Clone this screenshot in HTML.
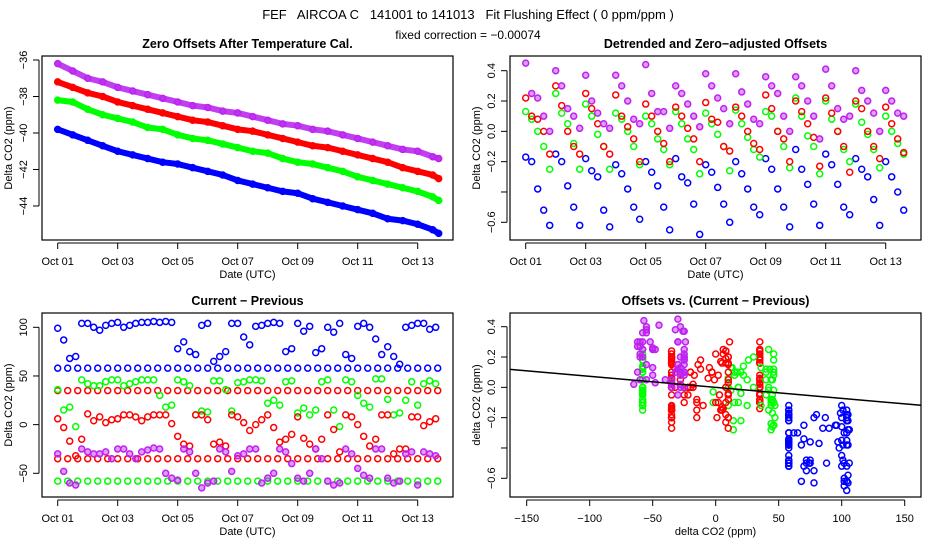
<!DOCTYPE html>
<html><head><meta charset="utf-8"><style>
body{margin:0;background:#fff;}
svg{display:block;font-family:"Liberation Sans",sans-serif;}
text{white-space:pre;}
</style></head><body>
<svg id="c" width="936" height="540" viewBox="0 0 936 540" xmlns="http://www.w3.org/2000/svg">
<rect width="936" height="540" fill="#fff"/>
<text x="468" y="19" font-size="13" text-anchor="middle">FEF   AIRCOA C   141001 to 141013   Fit Flushing Effect ( 0 ppm/ppm )</text>
<text x="468" y="39" font-size="12" text-anchor="middle">fixed correction = −0.00074</text>
</svg>
<script>
// ---- Panel 1: zero offsets (days since Oct 01)
const t1 = [0,0.5,1,1.5,2,2.5,3,3.5,4,4.5,5,5.5,6,6.5,7,7.5,8,8.5,9,9.5,10,10.5,11,11.5,12,12.5,12.7];
const zeroPurple = [-36.2,-36.6,-37.0,-37.2,-37.5,-37.7,-37.9,-38.1,-38.3,-38.5,-38.6,-38.8,-38.9,-39.1,-39.3,-39.5,-39.6,-39.8,-39.9,-40.1,-40.3,-40.5,-40.7,-40.9,-41.0,-41.3,-41.4];
const zeroRed = [-37.2,-37.5,-37.8,-38.0,-38.3,-38.5,-38.7,-38.9,-39.1,-39.3,-39.4,-39.6,-39.8,-39.9,-40.1,-40.3,-40.5,-40.7,-40.8,-41.0,-41.2,-41.4,-41.6,-41.9,-42.1,-42.3,-42.5];
const zeroGreen = [-38.2,-38.3,-38.7,-39.0,-39.2,-39.4,-39.7,-39.8,-40.1,-40.3,-40.4,-40.6,-40.8,-41.0,-41.1,-41.4,-41.6,-41.7,-41.9,-42.1,-42.4,-42.6,-42.8,-43.0,-43.2,-43.5,-43.7];
const zeroBlue = [-39.8,-40.1,-40.4,-40.7,-41.0,-41.2,-41.4,-41.6,-41.7,-41.9,-42.1,-42.3,-42.6,-42.8,-43.0,-43.2,-43.3,-43.6,-43.8,-44.0,-44.2,-44.4,-44.7,-44.8,-45.0,-45.3,-45.5];
// ---- Panels 2/3: sampled every 0.2 day
const sampleStep = 0.2;
const offPurple = [0.45,0.25,0.22,0.1,0.0, 0.4,0.3,0.15,0.1,0.02, 0.37,0.2,0.12,0.05,0.02, 0.37,0.3,0.2,0.08,0.05, 0.44,0.25,0.13,0.13,0.02, 0.3,0.25,0.18,0.1,0.03, 0.38,0.3,0.22,0.15,0.05, 0.38,0.26,0.18,0.08,0.05, 0.36,0.3,0.25,0.1,0.0, 0.36,0.3,0.2,0.1,-0.05, 0.41,0.3,0.15,0.08,0.1, 0.4,0.27,0.2,0.12,0.0, 0.27,0.2,0.12,0.1];
const offRed = [0.22,0.1,0.08,0.0,-0.15, 0.3,0.17,0.0,-0.1,-0.15, 0.25,0.15,0.05,-0.1,-0.15, 0.24,0.1,0.03,-0.05,-0.2, 0.18,0.1,0.0,-0.08,-0.2, 0.16,0.1,0.02,-0.05,-0.2, 0.19,0.08,0.06,-0.1,-0.13, 0.16,0.1,0.0,-0.08,-0.12, 0.24,0.15,0.0,-0.05,-0.2, 0.2,0.13,0.05,-0.04,-0.23, 0.22,0.12,0.0,-0.1,-0.27, 0.2,0.15,0.0,-0.1,-0.18, 0.16,0.05,-0.05,-0.14];
const offGreen = [0.13,0.08,0.0,-0.1,-0.25, 0.25,0.12,0.05,-0.08,-0.25, 0.18,0.1,-0.02,-0.1,-0.25, 0.12,0.08,0.0,-0.1,-0.22, 0.1,0.05,-0.05,-0.12,-0.22, 0.13,0.05,-0.05,-0.12,-0.28, 0.12,0.05,-0.02,-0.1,-0.26, 0.14,0.05,-0.04,-0.12,-0.17, 0.13,0.1,0.0,-0.1,-0.24, 0.22,0.1,-0.03,-0.1,-0.28, 0.2,0.08,0.0,-0.12,-0.2, 0.18,0.06,-0.02,-0.12,-0.24, 0.1,0.0,-0.08,-0.15];
const offBlue = [-0.17,-0.2,-0.38,-0.52,-0.62, -0.15,-0.2,-0.36,-0.5,-0.62, -0.18,-0.26,-0.3,-0.52,-0.63, -0.22,-0.28,-0.38,-0.5,-0.58, -0.2,-0.27,-0.36,-0.5,-0.65, -0.18,-0.3,-0.34,-0.48,-0.68, -0.22,-0.27,-0.37,-0.48,-0.6, -0.2,-0.28,-0.38,-0.5,-0.55, -0.18,-0.25,-0.38,-0.5,-0.63, -0.12,-0.25,-0.35,-0.48,-0.62, -0.15,-0.22,-0.35,-0.5,-0.55, -0.18,-0.25,-0.3,-0.45,-0.62, -0.2,-0.3,-0.4,-0.52];
const diffBlue = [99,87,68,70,104, 104,100,97,102,104, 105,100,102,104,105, 105,106,105,106,105, 78,85,75,72,102, 104,65,70,75,104, 104,90,82,101,102, 104,105,104,75,78, 104,96,101,74,78, 100,95,104,72,68, 101,104,100,88,72, 80,70,62,100,102, 104,104,98,100];
const diffGreen = [36,15,18,-2,46, 42,40,40,44,46, 46,40,42,44,46, 46,46,30,18,20, 46,44,40,10,14, 13,45,45,36,14, 43,44,46,46,45, 22,25,20,44,45, 12,17,10,15,44, 46,15,-2,46,44, 30,22,18,47,47, 26,10,12,25,44, 20,42,45,42];
const diffRed = [6,-3,-17,-32,-15, 11,4,8,2,5, 6,10,10,8,4, 8,10,10,10,1, -12,-20,-22,10,10, 5,-20,-18,-22,10, 8,2,-6,0,5, 10,-3,-18,-15,-10, 8,-14,-20,-25,-15, 10,-5,-28,10,8, 0,-12,-22,-15,10, 10,-30,-25,-25,8, 8,-1,3,6];
const diffPurple = [-30,-48,-60,-62,-25, -28,-30,-30,-28,-35, -25,-25,-30,-35,-28, -26,-24,-25,-50,-55, -57,-25,-28,-50,-65, -60,-58,-25,-28,-48, -32,-30,-25,-25,-60, -55,-50,-25,-28,-40, -55,-58,-50,-25,-35, -58,-62,-60,-25,-30, -45,-52,-55,-25,-25, -55,-60,-58,-30,-28, -62,-28,-30,-32];
// constant "Current - Previous" rows
const rowStep = 1/3;
const rowCount = 39;
const rowBlue = 58, rowGreen = -58, rowRedHigh = 35, rowRedLow = -35;
const fixedCorrection = -0.00074;
const dateTicks = [0,2,4,6,8,10,12];
const dateLabels = ["Oct 01","Oct 03","Oct 05","Oct 07","Oct 09","Oct 11","Oct 13"];

const svg = document.getElementById('c');
const NS = 'http://www.w3.org/2000/svg';
const COL = {purple:'#a020f0', red:'#ff0000', green:'#00ff00', blue:'#0000ff'};
function mk(tag, attrs, parent){const e=document.createElementNS(NS,tag);for(const k in attrs)e.setAttribute(k,attrs[k]);(parent||svg).appendChild(e);return e;}
function lin(d0,d1,r0,r1){return v=>r0+(v-d0)*(r1-r0)/(d1-d0);}

function panel(name, box, xs, ys, xt, xl, yt, yl, title, xTitle, yTitle){
  const g = mk('g',{});
  
  
  const fr = mk('rect',{x:box.x0,y:box.y0,width:box.x1-box.x0,height:box.y1-box.y0,fill:'none',stroke:'#000','stroke-width':1.2},g);
  
  
  const xa = mk('g',{},g);
  
  
  const ay = box.y1+3;
  mk('line',{x1:xs(xt[0]),x2:xs(xt[xt.length-1]),y1:ay,y2:ay,stroke:'#000'},xa);
  xt.forEach((v,i)=>{mk('line',{x1:xs(v),x2:xs(v),y1:ay,y2:ay+6,stroke:'#000'},xa);
    const t=mk('text',{x:xs(v),y:ay+22,'font-size':11,'text-anchor':'middle'},xa);t.textContent=xl[i];
    
    });
  const ya = mk('g',{},g);
  
  
  const ax = box.x0-3;
  mk('line',{x1:ax,x2:ax,y1:ys(yt[0]),y2:ys(yt[yt.length-1]),stroke:'#000'},ya);
  yt.forEach((v,i)=>{mk('line',{x1:ax-6,x2:ax,y1:ys(v),y2:ys(v),stroke:'#000'},ya);
    if(yl[i]!==''){const t=mk('text',{x:0,y:0,'font-size':11,'text-anchor':'middle',transform:`translate(${ax-12},${ys(v)}) rotate(-90)`},ya);t.textContent=yl[i];
    
    }});
  const tt = mk('text',{x:(box.x0+box.x1)/2,y:box.y0-8,'font-size':12.5,'font-weight':'bold','text-anchor':'middle'},g);tt.textContent=title;
  
  
  const xtl = mk('text',{x:(box.x0+box.x1)/2,y:box.y1+38,'font-size':11,'text-anchor':'middle'},g);xtl.textContent=xTitle;
  
  
  const ytl = mk('text',{x:0,y:0,'font-size':11,'text-anchor':'middle',transform:`translate(${box.x0-30},${(box.y0+box.y1)/2}) rotate(-90)`},g);ytl.textContent=yTitle;
  
  
  const pts = mk('g',{},g);
  
  
  return pts;
}
function pt(parent,x,y,c){
  const isP = c==='purple';
  const e = mk('circle',{cx:x,cy:y,r:3,fill:isP?'rgba(180,40,240,0.45)':'none',stroke:isP?'#c020f0':COL[c],'stroke-width':1.5},parent);
  
  
}

// Panel 1
{const box={x0:42,x1:453,y0:56,y1:240};
 const xs=lin(0,12,57.7,417.7), ys=lin(-36,-44,60,206);
 const p=panel('zero-offsets-panel',box,xs,ys,dateTicks,dateLabels,[-36,-38,-40,-42,-44],['−36','−38','−40','−42','−44'],'Zero Offsets After Temperature Cal.','Date (UTC)','Delta CO2 (ppm)');
 [['purple',zeroPurple],['red',zeroRed],['green',zeroGreen],['blue',zeroBlue]].forEach(([c,arr])=>{
   const band=mk('polyline',{points:arr.map((v,i)=>xs(t1[i])+','+ys(v)).join(' '),fill:'none',stroke:c==='purple'?'#c040f0':COL[c],'stroke-width':6,'stroke-linejoin':'round','stroke-linecap':'round'},p);
   
   
   arr.forEach((v,i)=>pt(p,xs(t1[i]),ys(v),c));
 });}
// Panel 2
const offTicks=[0.4,0.2,0,-0.2,-0.4,-0.6], offLabels=['0.4','0.2','0.0','−0.2','','−0.6'];
{const box={x0:510,x1:921,y0:56,y1:240};
 const xs=lin(0,12,525.7,885.7), ys=lin(0.4,-0.6,70.7,222.3);
 const p=panel('detrended-offsets-panel',box,xs,ys,dateTicks,dateLabels,offTicks,offLabels,'Detrended and Zero−adjusted Offsets','Date (UTC)','Delta CO2 (ppm)');
 [['blue',offBlue],['green',offGreen],['red',offRed],['purple',offPurple]].forEach(([c,arr])=>arr.forEach((v,i)=>pt(p,xs(i*sampleStep),ys(v),c)));}
// Panel 3
{const box={x0:42,x1:453,y0:313,y1:497};
 const xs=lin(0,12,57.7,417.7), ys=lin(100,-50,327.3,473.3);
 const p=panel('current-previous-panel',box,xs,ys,dateTicks,dateLabels,[100,50,0,-50],['100','50','0','−50'],'Current − Previous','Date (UTC)','Delta CO2 (ppm)');
 for(let k=0;k<rowCount;k++){const t=k*rowStep;
   pt(p,xs(t),ys(rowBlue),'blue');pt(p,xs(t),ys(rowGreen),'green');pt(p,xs(t),ys(rowRedHigh),'red');pt(p,xs(t),ys(rowRedLow),'red');}
 [['blue',diffBlue],['green',diffGreen],['red',diffRed],['purple',diffPurple]].forEach(([c,arr])=>arr.forEach((v,i)=>pt(p,xs(i*sampleStep),ys(v),c)));}
// Panel 4
{const box={x0:510,x1:921,y0:313,y1:497};
 const xs=lin(-150,150,526.7,904.7), ys=lin(0.4,-0.6,326.7,478.3);
 const p=panel('offsets-vs-diff-panel',box,xs,ys,[-150,-100,-50,0,50,100,150],['−150','−100','−50','0','50','100','150'],offTicks,offLabels,'Offsets vs. (Current − Previous)','delta CO2 (ppm)','delta CO2 (ppm)');
 const near=(arr,t)=>arr[Math.min(arr.length-1,Math.round(t/sampleStep))];
 for(let k=0;k<rowCount;k++){const t=k*rowStep;
   pt(p,xs(rowBlue),ys(near(offBlue,t)),'blue');pt(p,xs(rowGreen),ys(near(offGreen,t)),'green');
   pt(p,xs(rowRedHigh),ys(near(offRed,t)),'red');pt(p,xs(rowRedLow),ys(near(offRed,t+0.1)),'red');}
 [['blue',diffBlue,offBlue],['green',diffGreen,offGreen],['red',diffRed,offRed],['purple',diffPurple,offPurple]].forEach(([c,dx,dy])=>dx.forEach((v,i)=>pt(p,xs(v),ys(dy[i]),c)));
 const fit=mk('line',{x1:box.x0,x2:box.x1,y1:ys(fixedCorrection*-160),y2:ys(fixedCorrection*160),stroke:'#000','stroke-width':1.5},p);
 
 }
</script>
</body></html>
